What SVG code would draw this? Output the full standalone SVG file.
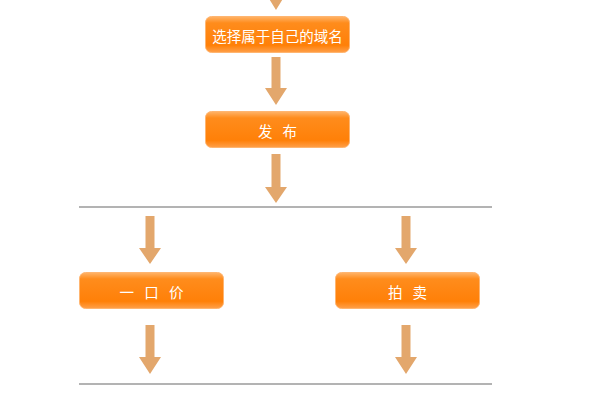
<svg xmlns="http://www.w3.org/2000/svg" width="600" height="400" viewBox="0 0 600 400">
<style>
.box{fill:url(#og);stroke:#ffb570;stroke-width:1}
.t{font-family:"Noto Sans CJK SC","Noto Sans",sans-serif;font-size:14.5px;fill:#ffffff;text-anchor:middle;dominant-baseline:central}
.w{word-spacing:7px}
.arr{fill:#e3a76c}
.sep{stroke:#b3b3b3;stroke-width:2}
</style>
<defs>
<linearGradient id="og" x1="0" y1="0" x2="0" y2="1">
<stop offset="0" stop-color="#ffb46a"/>
<stop offset="0.18" stop-color="#ff8c1c"/>
<stop offset="0.8" stop-color="#ff8008"/>
<stop offset="1" stop-color="#ffa04a"/>
</linearGradient>
</defs>
<g id="connectors">
<path class="arr" d="M271.5,0 H280.5 V-7 H286.5 L276,10 L265.5,-7 Z"/>
<path class="arr" d="M271.5,57 H280.5 V88 H287 L276,105 L265,88 H271.5 Z"/>
<path class="arr" d="M271.5,154 H280.5 V187 H287 L276,203 L265,187 H271.5 Z"/>
<line class="sep" x1="79" y1="207" x2="492" y2="207"/>
<path class="arr" d="M145.5,216 H154.5 V248 H161 L150,264 L139,248 H145.5 Z"/>
<path class="arr" d="M401.5,216 H410.5 V248 H417 L406,264 L395,248 H401.5 Z"/>
<path class="arr" d="M145.5,325 H154.5 V357 H161 L150,374 L139,357 H145.5 Z"/>
<path class="arr" d="M401.5,325 H410.5 V357 H417 L406,374 L395,357 H401.5 Z"/>
<line class="sep" x1="79" y1="384" x2="492" y2="384"/>
</g>
<g id="node-select">
<rect class="box" x="205.5" y="16.5" width="144" height="36" rx="6"/>
<text class="t" x="277.5" y="35">选择属于自己的域名</text>
</g>
<g id="node-publish">
<rect class="box" x="205.5" y="111.5" width="144" height="36" rx="6"/>
<text class="t w" x="277.5" y="130">发 布</text>
</g>
<g id="node-fixed">
<rect class="box" x="79.5" y="272.5" width="144" height="36" rx="6"/>
<text class="t w" x="151.5" y="291">一 口 价</text>
</g>
<g id="node-auction">
<rect class="box" x="335.5" y="272.5" width="144" height="36" rx="6"/>
<text class="t w" x="407.5" y="291">拍 卖</text>
</g>
</svg>
